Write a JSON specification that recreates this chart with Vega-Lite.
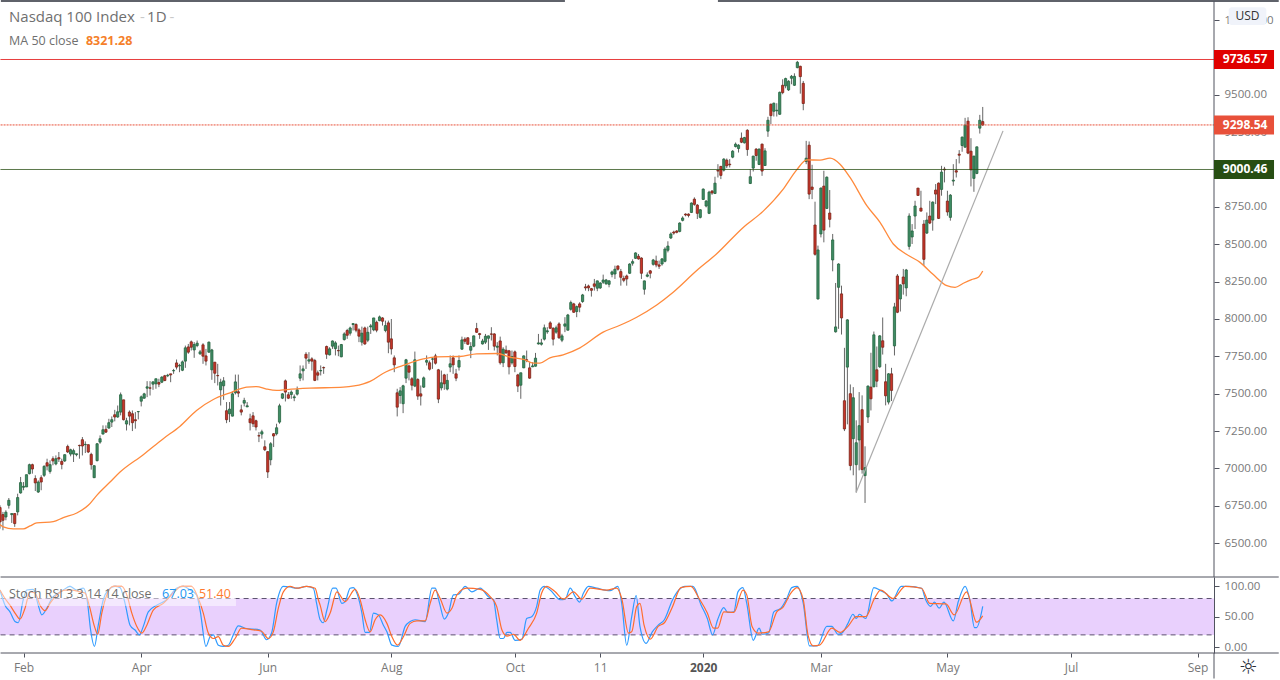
{
"$schema":"https://vega.github.io/schema/vega-lite/v6.json",
"autosize":{"type":"pad"},
"padding":0,
"background":"white",
"spacing":0,
"bounds":"flush",
"config":{"view":{"stroke":null},"font":"Open Sans","axis":{"grid":false,"title":null}},
"datasets":{
"candles":[
{"bar":0,"open":6738,"high":6753,"low":6597,"close":6642},
{"bar":1,"open":6691,"high":6709,"low":6586,"close":6653},
{"bar":2,"open":6675,"high":6720,"low":6653,"close":6707},
{"bar":3,"open":6753,"high":6802,"low":6731,"close":6787},
{"bar":4,"open":6691,"high":6698,"low":6635,"close":6698},
{"bar":5,"open":6698,"high":6698,"low":6609,"close":6631},
{"bar":6,"open":6709,"high":6831,"low":6686,"close":6805},
{"bar":7,"open":6836,"high":6943,"low":6831,"close":6905},
{"bar":8,"open":6874,"high":6909,"low":6854,"close":6880},
{"bar":9,"open":6876,"high":6958,"low":6876,"close":6958},
{"bar":10,"open":6965,"high":7032,"low":6960,"close":7025},
{"bar":11,"open":7025,"high":7032,"low":6965,"close":6996},
{"bar":12,"open":6932,"high":6954,"low":6849,"close":6903},
{"bar":13,"open":6842,"high":6920,"low":6836,"close":6909},
{"bar":14,"open":6938,"high":6954,"low":6854,"close":6909},
{"bar":15,"open":6954,"high":7021,"low":6943,"close":7014},
{"bar":16,"open":7038,"high":7065,"low":6987,"close":7016},
{"bar":17,"open":6980,"high":7054,"low":6965,"close":7025},
{"bar":18,"open":7065,"high":7081,"low":7021,"close":7050},
{"bar":19,"open":7030,"high":7087,"low":7021,"close":7065},
{"bar":20,"open":7072,"high":7110,"low":7043,"close":7063},
{"bar":21,"open":7047,"high":7065,"low":6994,"close":7027},
{"bar":22,"open":7050,"high":7094,"low":7043,"close":7092},
{"bar":23,"open":7147,"high":7159,"low":7103,"close":7110},
{"bar":24,"open":7096,"high":7132,"low":7081,"close":7125},
{"bar":25,"open":7096,"high":7132,"low":7043,"close":7119},
{"bar":26,"open":7092,"high":7098,"low":7081,"close":7098},
{"bar":27,"open":7154,"high":7159,"low":7065,"close":7152},
{"bar":28,"open":7192,"high":7210,"low":7087,"close":7150},
{"bar":29,"open":7159,"high":7181,"low":7103,"close":7161},
{"bar":30,"open":7159,"high":7159,"low":7103,"close":7110},
{"bar":31,"open":7094,"high":7105,"low":6992,"close":7025},
{"bar":32,"open":6938,"high":7021,"low":6936,"close":7018},
{"bar":33,"open":7052,"high":7170,"low":7047,"close":7165},
{"bar":34,"open":7176,"high":7221,"low":7165,"close":7199},
{"bar":35,"open":7230,"high":7288,"low":7228,"close":7259},
{"bar":36,"open":7261,"high":7288,"low":7237,"close":7243},
{"bar":37,"open":7270,"high":7332,"low":7266,"close":7306},
{"bar":38,"open":7310,"high":7348,"low":7277,"close":7326},
{"bar":39,"open":7359,"high":7392,"low":7315,"close":7344},
{"bar":40,"open":7344,"high":7421,"low":7339,"close":7379},
{"bar":41,"open":7377,"high":7508,"low":7355,"close":7493},
{"bar":42,"open":7459,"high":7459,"low":7321,"close":7326},
{"bar":43,"open":7297,"high":7339,"low":7254,"close":7319},
{"bar":44,"open":7377,"high":7388,"low":7288,"close":7350},
{"bar":45,"open":7366,"high":7388,"low":7250,"close":7306},
{"bar":46,"open":7326,"high":7377,"low":7266,"close":7319},
{"bar":47,"open":7379,"high":7381,"low":7328,"close":7381},
{"bar":48,"open":7450,"high":7488,"low":7415,"close":7479},
{"bar":49,"open":7470,"high":7506,"low":7466,"close":7499},
{"bar":50,"open":7537,"high":7584,"low":7477,"close":7546},
{"bar":51,"open":7539,"high":7584,"low":7488,"close":7537},
{"bar":52,"open":7564,"high":7584,"low":7526,"close":7579},
{"bar":53,"open":7566,"high":7600,"low":7533,"close":7600},
{"bar":54,"open":7575,"high":7600,"low":7544,"close":7564},
{"bar":55,"open":7577,"high":7617,"low":7571,"close":7611},
{"bar":56,"open":7620,"high":7626,"low":7584,"close":7588},
{"bar":57,"open":7620,"high":7633,"low":7611,"close":7624},
{"bar":58,"open":7633,"high":7633,"low":7577,"close":7626},
{"bar":59,"open":7653,"high":7666,"low":7633,"close":7655},
{"bar":60,"open":7706,"high":7729,"low":7662,"close":7678},
{"bar":61,"open":7686,"high":7700,"low":7644,"close":7689},
{"bar":62,"open":7657,"high":7722,"low":7651,"close":7713},
{"bar":63,"open":7718,"high":7822,"low":7673,"close":7807},
{"bar":64,"open":7813,"high":7833,"low":7767,"close":7778},
{"bar":65,"open":7847,"high":7856,"low":7789,"close":7811},
{"bar":66,"open":7793,"high":7845,"low":7740,"close":7829},
{"bar":67,"open":7822,"high":7856,"low":7811,"close":7838},
{"bar":68,"open":7767,"high":7793,"low":7760,"close":7780},
{"bar":69,"open":7827,"high":7838,"low":7700,"close":7751},
{"bar":70,"open":7753,"high":7800,"low":7689,"close":7718},
{"bar":71,"open":7778,"high":7849,"low":7773,"close":7845},
{"bar":72,"open":7660,"high":7800,"low":7593,"close":7793},
{"bar":73,"open":7711,"high":7711,"low":7571,"close":7637},
{"bar":74,"open":7622,"high":7700,"low":7555,"close":7620},
{"bar":75,"open":7526,"high":7600,"low":7421,"close":7577},
{"bar":76,"open":7553,"high":7611,"low":7459,"close":7586},
{"bar":77,"open":7386,"high":7444,"low":7303,"close":7326},
{"bar":78,"open":7366,"high":7444,"low":7310,"close":7397},
{"bar":79,"open":7350,"high":7515,"low":7348,"close":7499},
{"bar":80,"open":7506,"high":7628,"low":7495,"close":7579},
{"bar":81,"open":7513,"high":7628,"low":7477,"close":7504},
{"bar":82,"open":7392,"high":7426,"low":7355,"close":7377},
{"bar":83,"open":7437,"high":7473,"low":7415,"close":7455},
{"bar":84,"open":7412,"high":7444,"low":7410,"close":7419},
{"bar":85,"open":7332,"high":7366,"low":7254,"close":7306},
{"bar":86,"open":7352,"high":7377,"low":7277,"close":7299},
{"bar":87,"open":7319,"high":7326,"low":7254,"close":7277},
{"bar":88,"open":7219,"high":7243,"low":7176,"close":7217},
{"bar":89,"open":7230,"high":7259,"low":7199,"close":7245},
{"bar":90,"open":7145,"high":7188,"low":7116,"close":7125},
{"bar":91,"open":7112,"high":7116,"low":6936,"close":6976},
{"bar":92,"open":7058,"high":7176,"low":7021,"close":7165},
{"bar":93,"open":7232,"high":7237,"low":7143,"close":7217},
{"bar":94,"open":7232,"high":7299,"low":7221,"close":7272},
{"bar":95,"open":7310,"high":7433,"low":7299,"close":7419},
{"bar":96,"open":7470,"high":7504,"low":7464,"close":7499},
{"bar":97,"open":7586,"high":7595,"low":7448,"close":7511},
{"bar":98,"open":7493,"high":7511,"low":7464,"close":7470},
{"bar":99,"open":7495,"high":7522,"low":7466,"close":7511},
{"bar":100,"open":7473,"high":7495,"low":7450,"close":7479},
{"bar":101,"open":7497,"high":7548,"low":7488,"close":7526},
{"bar":102,"open":7604,"high":7689,"low":7584,"close":7633},
{"bar":103,"open":7653,"high":7689,"low":7589,"close":7666},
{"bar":104,"open":7764,"high":7778,"low":7666,"close":7738},
{"bar":105,"open":7718,"high":7778,"low":7700,"close":7727},
{"bar":106,"open":7733,"high":7744,"low":7655,"close":7718},
{"bar":107,"open":7722,"high":7733,"low":7584,"close":7589},
{"bar":108,"open":7640,"high":7655,"low":7589,"close":7624},
{"bar":109,"open":7653,"high":7689,"low":7622,"close":7655},
{"bar":110,"open":7675,"high":7682,"low":7633,"close":7673},
{"bar":111,"open":7816,"high":7822,"low":7733,"close":7764},
{"bar":112,"open":7760,"high":7811,"low":7756,"close":7800},
{"bar":113,"open":7818,"high":7856,"low":7800,"close":7853},
{"bar":114,"open":7802,"high":7851,"low":7756,"close":7840},
{"bar":115,"open":7789,"high":7822,"low":7751,"close":7787},
{"bar":116,"open":7747,"high":7833,"low":7744,"close":7829},
{"bar":117,"open":7862,"high":7911,"low":7856,"close":7900},
{"bar":118,"open":7923,"high":7934,"low":7867,"close":7891},
{"bar":119,"open":7905,"high":7949,"low":7889,"close":7940},
{"bar":120,"open":7963,"high":7972,"low":7923,"close":7969},
{"bar":121,"open":7963,"high":7972,"low":7911,"close":7925},
{"bar":122,"open":7927,"high":7938,"low":7845,"close":7885},
{"bar":123,"open":7845,"high":7949,"low":7822,"close":7905},
{"bar":124,"open":7940,"high":7949,"low":7827,"close":7833},
{"bar":125,"open":7858,"high":7949,"low":7845,"close":7911},
{"bar":126,"open":7947,"high":7967,"low":7900,"close":7954},
{"bar":127,"open":7927,"high":8007,"low":7918,"close":8007},
{"bar":128,"open":7978,"high":7989,"low":7911,"close":7925},
{"bar":129,"open":7989,"high":8023,"low":7985,"close":8014},
{"bar":130,"open":8007,"high":8012,"low":7956,"close":7985},
{"bar":131,"open":7923,"high":7989,"low":7911,"close":7956},
{"bar":132,"open":7974,"high":7989,"low":7771,"close":7845},
{"bar":133,"open":7867,"high":8000,"low":7762,"close":7800},
{"bar":134,"open":7740,"high":7756,"low":7644,"close":7693},
{"bar":135,"open":7506,"high":7533,"low":7348,"close":7410},
{"bar":136,"open":7488,"high":7544,"low":7433,"close":7519},
{"bar":137,"open":7433,"high":7560,"low":7370,"close":7553},
{"bar":138,"open":7604,"high":7733,"low":7571,"close":7727},
{"bar":139,"open":7686,"high":7695,"low":7589,"close":7644},
{"bar":140,"open":7600,"high":7611,"low":7522,"close":7557},
{"bar":141,"open":7551,"high":7782,"low":7544,"close":7727},
{"bar":142,"open":7595,"high":7604,"low":7459,"close":7484},
{"bar":143,"open":7499,"high":7555,"low":7421,"close":7484},
{"bar":144,"open":7544,"high":7615,"low":7539,"close":7606},
{"bar":145,"open":7711,"high":7756,"low":7689,"close":7722},
{"bar":146,"open":7707,"high":7722,"low":7655,"close":7664},
{"bar":147,"open":7731,"high":7744,"low":7666,"close":7733},
{"bar":148,"open":7753,"high":7767,"low":7695,"close":7704},
{"bar":149,"open":7660,"high":7666,"low":7437,"close":7464},
{"bar":150,"open":7539,"high":7655,"low":7522,"close":7573},
{"bar":151,"open":7626,"high":7633,"low":7526,"close":7566},
{"bar":152,"open":7531,"high":7633,"low":7522,"close":7589},
{"bar":153,"open":7678,"high":7756,"low":7644,"close":7700},
{"bar":154,"open":7740,"high":7756,"low":7633,"close":7693},
{"bar":155,"open":7633,"high":7666,"low":7584,"close":7604},
{"bar":156,"open":7678,"high":7756,"low":7655,"close":7722},
{"bar":157,"open":7798,"high":7882,"low":7793,"close":7860},
{"bar":158,"open":7865,"high":7878,"low":7833,"close":7851},
{"bar":159,"open":7874,"high":7878,"low":7827,"close":7831},
{"bar":160,"open":7791,"high":7845,"low":7738,"close":7816},
{"bar":161,"open":7818,"high":7889,"low":7811,"close":7887},
{"bar":162,"open":7936,"high":7974,"low":7907,"close":7911},
{"bar":163,"open":7902,"high":7907,"low":7867,"close":7896},
{"bar":164,"open":7833,"high":7867,"low":7829,"close":7853},
{"bar":165,"open":7845,"high":7900,"low":7833,"close":7885},
{"bar":166,"open":7871,"high":7889,"low":7793,"close":7887},
{"bar":167,"open":7900,"high":7945,"low":7856,"close":7898},
{"bar":168,"open":7900,"high":7905,"low":7789,"close":7818},
{"bar":169,"open":7811,"high":7845,"low":7756,"close":7818},
{"bar":170,"open":7853,"high":7882,"low":7695,"close":7707},
{"bar":171,"open":7707,"high":7811,"low":7678,"close":7798},
{"bar":172,"open":7791,"high":7822,"low":7767,"close":7773},
{"bar":173,"open":7787,"high":7793,"low":7629,"close":7680},
{"bar":174,"open":7707,"high":7789,"low":7695,"close":7749},
{"bar":175,"open":7780,"high":7789,"low":7644,"close":7682},
{"bar":176,"open":7626,"high":7633,"low":7511,"close":7551},
{"bar":177,"open":7557,"high":7640,"low":7466,"close":7640},
{"bar":178,"open":7673,"high":7756,"low":7671,"close":7753},
{"bar":179,"open":7727,"high":7789,"low":7711,"close":7724},
{"bar":180,"open":7673,"high":7711,"low":7600,"close":7604},
{"bar":181,"open":7680,"high":7711,"low":7678,"close":7686},
{"bar":182,"open":7684,"high":7773,"low":7682,"close":7738},
{"bar":183,"open":7833,"high":7900,"low":7829,"close":7840},
{"bar":184,"open":7831,"high":7867,"low":7822,"close":7840},
{"bar":185,"open":7865,"high":7963,"low":7856,"close":7941},
{"bar":186,"open":7914,"high":7945,"low":7901,"close":7921},
{"bar":187,"open":7974,"high":7985,"low":7934,"close":7938},
{"bar":188,"open":7938,"high":7945,"low":7823,"close":7865},
{"bar":189,"open":7912,"high":7956,"low":7901,"close":7941},
{"bar":190,"open":7967,"high":7978,"low":7867,"close":7874},
{"bar":191,"open":7858,"high":7901,"low":7845,"close":7887},
{"bar":192,"open":7952,"high":8012,"low":7912,"close":7967},
{"bar":193,"open":7925,"high":8034,"low":7923,"close":8027},
{"bar":194,"open":8065,"high":8123,"low":8056,"close":8110},
{"bar":195,"open":8101,"high":8108,"low":8041,"close":8045},
{"bar":196,"open":8050,"high":8090,"low":8012,"close":8083},
{"bar":197,"open":8101,"high":8112,"low":8045,"close":8079},
{"bar":198,"open":8117,"high":8168,"low":8108,"close":8161},
{"bar":199,"open":8215,"high":8235,"low":8190,"close":8208},
{"bar":200,"open":8221,"high":8230,"low":8186,"close":8208},
{"bar":201,"open":8203,"high":8208,"low":8150,"close":8192},
{"bar":202,"open":8235,"high":8268,"low":8190,"close":8219},
{"bar":203,"open":8206,"high":8257,"low":8186,"close":8255},
{"bar":204,"open":8208,"high":8246,"low":8201,"close":8241},
{"bar":205,"open":8246,"high":8297,"low":8235,"close":8261},
{"bar":206,"open":8235,"high":8268,"low":8230,"close":8261},
{"bar":207,"open":8232,"high":8261,"low":8212,"close":8255},
{"bar":208,"open":8299,"high":8324,"low":8279,"close":8315},
{"bar":209,"open":8301,"high":8357,"low":8268,"close":8333},
{"bar":210,"open":8355,"high":8357,"low":8324,"close":8333},
{"bar":211,"open":8317,"high":8335,"low":8223,"close":8279},
{"bar":212,"open":8272,"high":8290,"low":8246,"close":8259},
{"bar":213,"open":8288,"high":8297,"low":8223,"close":8268},
{"bar":214,"open":8306,"high":8373,"low":8301,"close":8368},
{"bar":215,"open":8373,"high":8399,"low":8357,"close":8384},
{"bar":216,"open":8406,"high":8446,"low":8402,"close":8442},
{"bar":217,"open":8420,"high":8435,"low":8397,"close":8402},
{"bar":218,"open":8408,"high":8413,"low":8268,"close":8306},
{"bar":219,"open":8199,"high":8257,"low":8163,"close":8255},
{"bar":220,"open":8286,"high":8312,"low":8279,"close":8295},
{"bar":221,"open":8322,"high":8328,"low":8272,"close":8306},
{"bar":222,"open":8366,"high":8402,"low":8357,"close":8395},
{"bar":223,"open":8388,"high":8424,"low":8346,"close":8362},
{"bar":224,"open":8362,"high":8391,"low":8335,"close":8353},
{"bar":225,"open":8368,"high":8408,"low":8357,"close":8402},
{"bar":226,"open":8386,"high":8480,"low":8379,"close":8468},
{"bar":227,"open":8460,"high":8520,"low":8446,"close":8488},
{"bar":228,"open":8542,"high":8580,"low":8535,"close":8569},
{"bar":229,"open":8582,"high":8591,"low":8564,"close":8575},
{"bar":230,"open":8589,"high":8595,"low":8573,"close":8580},
{"bar":231,"open":8586,"high":8647,"low":8580,"close":8642},
{"bar":232,"open":8660,"high":8687,"low":8653,"close":8676},
{"bar":233,"open":8702,"high":8707,"low":8687,"close":8696},
{"bar":234,"open":8702,"high":8707,"low":8680,"close":8693},
{"bar":235,"open":8713,"high":8780,"low":8709,"close":8776},
{"bar":236,"open":8802,"high":8814,"low":8758,"close":8767},
{"bar":237,"open":8762,"high":8769,"low":8669,"close":8707},
{"bar":238,"open":8680,"high":8736,"low":8673,"close":8731},
{"bar":239,"open":8800,"high":8874,"low":8796,"close":8869},
{"bar":240,"open":8756,"high":8796,"low":8747,"close":8789},
{"bar":241,"open":8707,"high":8858,"low":8702,"close":8849},
{"bar":242,"open":8856,"high":8863,"low":8831,"close":8843},
{"bar":243,"open":8840,"high":8952,"low":8836,"close":8909},
{"bar":244,"open":8994,"high":9036,"low":8947,"close":8990},
{"bar":245,"open":9021,"high":9025,"low":8936,"close":8961},
{"bar":246,"open":8996,"high":9076,"low":8987,"close":9070},
{"bar":247,"open":9063,"high":9074,"low":9010,"close":9025},
{"bar":248,"open":9036,"high":9070,"low":9014,"close":9032},
{"bar":249,"open":9083,"high":9130,"low":9076,"close":9123},
{"bar":250,"open":9154,"high":9181,"low":9148,"close":9170},
{"bar":251,"open":9141,"high":9170,"low":9114,"close":9163},
{"bar":252,"open":9210,"high":9248,"low":9177,"close":9183},
{"bar":253,"open":9179,"high":9219,"low":9174,"close":9214},
{"bar":254,"open":9263,"high":9270,"low":9092,"close":9134},
{"bar":255,"open":8907,"high":9003,"low":8903,"close":8952},
{"bar":256,"open":9010,"high":9092,"low":8987,"close":9090},
{"bar":257,"open":9137,"high":9143,"low":9059,"close":9094},
{"bar":258,"open":9034,"high":9141,"low":9030,"close":9137},
{"bar":259,"open":9170,"high":9174,"low":8958,"close":8990},
{"bar":260,"open":9027,"high":9143,"low":9025,"close":9125},
{"bar":261,"open":9257,"high":9353,"low":9219,"close":9330},
{"bar":262,"open":9437,"high":9442,"low":9304,"close":9361},
{"bar":263,"open":9390,"high":9448,"low":9355,"close":9444},
{"bar":264,"open":9393,"high":9444,"low":9355,"close":9397},
{"bar":265,"open":9370,"high":9522,"low":9366,"close":9517},
{"bar":266,"open":9564,"high":9604,"low":9504,"close":9515},
{"bar":267,"open":9560,"high":9615,"low":9544,"close":9609},
{"bar":268,"open":9533,"high":9598,"low":9526,"close":9591},
{"bar":269,"open":9611,"high":9633,"low":9571,"close":9624},
{"bar":270,"open":9564,"high":9644,"low":9560,"close":9624},
{"bar":271,"open":9682,"high":9727,"low":9678,"close":9718},
{"bar":272,"open":9691,"high":9695,"low":9508,"close":9622},
{"bar":273,"open":9577,"high":9593,"low":9397,"close":9442},
{"bar":274,"open":9054,"high":9192,"low":9036,"close":9076},
{"bar":275,"open":9163,"high":9188,"low":8802,"close":8836},
{"bar":276,"open":8883,"high":9032,"low":8802,"close":8867},
{"bar":277,"open":8629,"high":8785,"low":8424,"close":8433},
{"bar":278,"open":8134,"high":8491,"low":8130,"close":8462},
{"bar":279,"open":8569,"high":8880,"low":8546,"close":8876},
{"bar":280,"open":8889,"high":8992,"low":8513,"close":8595},
{"bar":281,"open":8740,"high":8954,"low":8736,"close":8949},
{"bar":282,"open":8709,"high":8863,"low":8613,"close":8667},
{"bar":283,"open":8395,"high":8569,"low":8319,"close":8529},
{"bar":284,"open":7914,"high":8241,"low":7909,"close":7947},
{"bar":285,"open":8212,"high":8373,"low":7934,"close":8368},
{"bar":286,"open":8168,"high":8223,"low":7896,"close":8007},
{"bar":287,"open":7453,"high":7807,"low":7250,"close":7264},
{"bar":288,"open":7678,"high":7999,"low":7295,"close":7994},
{"bar":289,"open":7500,"high":7562,"low":6987,"close":7019},
{"bar":290,"open":7199,"high":7544,"low":6954,"close":7473},
{"bar":291,"open":7025,"high":7322,"low":6838,"close":7172},
{"bar":292,"open":7190,"high":7511,"low":6987,"close":7286},
{"bar":293,"open":7393,"high":7489,"low":6965,"close":6992},
{"bar":294,"open":6952,"high":7148,"low":6769,"close":7005},
{"bar":295,"open":7344,"high":7555,"low":7304,"close":7551},
{"bar":296,"open":7544,"high":7774,"low":7388,"close":7466},
{"bar":297,"open":7546,"high":7916,"low":7544,"close":7894},
{"bar":298,"open":7660,"high":7816,"low":7544,"close":7584},
{"bar":299,"open":7680,"high":7892,"low":7673,"close":7887},
{"bar":300,"open":7854,"high":8010,"low":7762,"close":7811},
{"bar":301,"open":7580,"high":7700,"low":7422,"close":7486},
{"bar":302,"open":7444,"high":7638,"low":7428,"close":7633},
{"bar":303,"open":7633,"high":7673,"low":7451,"close":7522},
{"bar":304,"open":7820,"high":8108,"low":7756,"close":8081},
{"bar":305,"open":8288,"high":8301,"low":8039,"close":8045},
{"bar":306,"open":8134,"high":8232,"low":8050,"close":8228},
{"bar":307,"open":8281,"high":8335,"low":8163,"close":8235},
{"bar":308,"open":8208,"high":8335,"low":8152,"close":8328},
{"bar":309,"open":8486,"high":8707,"low":8464,"close":8689},
{"bar":310,"open":8549,"high":8635,"low":8502,"close":8589},
{"bar":311,"open":8689,"high":8791,"low":8602,"close":8756},
{"bar":312,"open":8876,"high":8876,"low":8825,"close":8827},
{"bar":313,"open":8742,"high":8858,"low":8720,"close":8722},
{"bar":314,"open":8635,"high":8662,"low":8357,"close":8399},
{"bar":315,"open":8575,"high":8713,"low":8569,"close":8662},
{"bar":316,"open":8689,"high":8791,"low":8635,"close":8642},
{"bar":317,"open":8662,"high":8787,"low":8591,"close":8782},
{"bar":318,"open":8863,"high":8903,"low":8769,"close":8836},
{"bar":319,"open":8909,"high":8914,"low":8669,"close":8673},
{"bar":320,"open":8867,"high":9025,"low":8825,"close":8983},
{"bar":321,"open":9003,"high":9018,"low":8914,"close":8998},
{"bar":322,"open":8789,"high":8858,"low":8691,"close":8716},
{"bar":323,"open":8680,"high":8836,"low":8658,"close":8829},
{"bar":324,"open":8923,"high":9036,"low":8892,"close":8929},
{"bar":325,"open":8992,"high":9070,"low":8947,"close":8983},
{"bar":326,"open":9103,"high":9130,"low":9041,"close":9096},
{"bar":327,"open":9161,"high":9221,"low":9119,"close":9217},
{"bar":328,"open":9150,"high":9346,"low":9145,"close":9297},
{"bar":329,"open":9324,"high":9350,"low":9103,"close":9110},
{"bar":330,"open":9123,"high":9210,"low":8887,"close":8998},
{"bar":331,"open":8941,"high":9092,"low":8851,"close":9090},
{"bar":332,"open":8974,"high":9154,"low":8969,"close":9152},
{"bar":333,"open":9277,"high":9366,"low":9241,"close":9330},
{"bar":334,"open":9321,"high":9419,"low":9292,"close":9298.54}
],
"ma":[
{"bar":0,"price":6624},{"bar":1.1,"price":6609},{"bar":4.5,"price":6595},{"bar":7.9,"price":6595},{"bar":10.2,"price":6615},{"bar":12.5,"price":6635},{"bar":18.1,"price":6644},{"bar":21.5,"price":6671},{"bar":26.1,"price":6702},{"bar":30,"price":6753},{"bar":32.9,"price":6820},{"bar":37.4,"price":6909},{"bar":40.8,"price":6976},{"bar":48.7,"price":7092},{"bar":55.5,"price":7199},{"bar":61.2,"price":7283},{"bar":66.8,"price":7388},{"bar":72.5,"price":7461},{"bar":78.2,"price":7506},{"bar":83.8,"price":7544},{"bar":87.2,"price":7548},{"bar":90.6,"price":7531},{"bar":94,"price":7522},{"bar":97.5,"price":7528},{"bar":105.3,"price":7537},{"bar":116.7,"price":7544},{"bar":123.5,"price":7566},{"bar":125.8,"price":7582},{"bar":130.3,"price":7637},{"bar":137,"price":7689},{"bar":143.9,"price":7733},{"bar":148.4,"price":7747},{"bar":156.3,"price":7749},{"bar":162,"price":7767},{"bar":169,"price":7769},{"bar":173.5,"price":7744},{"bar":178,"price":7729},{"bar":181.3,"price":7704},{"bar":183.5,"price":7705},{"bar":186.9,"price":7740},{"bar":191.4,"price":7760},{"bar":197.1,"price":7807},{"bar":205,"price":7912},{"bar":210.7,"price":7958},{"bar":216.4,"price":8012},{"bar":223.2,"price":8094},{"bar":228.8,"price":8179},{"bar":236.8,"price":8324},{"bar":243.5,"price":8435},{"bar":252.6,"price":8613},{"bar":259.4,"price":8722},{"bar":266.2,"price":8869},{"bar":270.7,"price":8996},{"bar":274.2,"price":9065},{"bar":278.7,"price":9063},{"bar":282.1,"price":9076},{"bar":285.5,"price":9036},{"bar":288.9,"price":8947},{"bar":294.6,"price":8758},{"bar":299.1,"price":8647},{"bar":303.6,"price":8502},{"bar":308.2,"price":8431},{"bar":312.7,"price":8379},{"bar":317.2,"price":8297},{"bar":321.8,"price":8223},{"bar":324.6,"price":8212},{"bar":327.4,"price":8239},{"bar":330.2,"price":8263},{"bar":332.5,"price":8279},{"bar":334,"price":8321.28}
],
"levels":[
{"price":9736.57,"label":"9736.57"},
{"price":9298.54,"label":"9298.54"},
{"price":9000.46,"label":"9000.46"}
],
"stoch":[
{"s":"K","bar":0,"v":94},{"s":"K","bar":1.7,"v":69},{"s":"K","bar":3.4,"v":58},{"s":"K","bar":5.1,"v":42},{"s":"K","bar":6.2,"v":40},{"s":"K","bar":7.9,"v":78},{"s":"K","bar":9.1,"v":94},{"s":"K","bar":11.3,"v":95},{"s":"K","bar":13,"v":69},{"s":"K","bar":14.2,"v":53},{"s":"K","bar":15.9,"v":64},{"s":"K","bar":17.6,"v":80},{"s":"K","bar":19.8,"v":89},{"s":"K","bar":21.5,"v":94},{"s":"K","bar":23.8,"v":100},{"s":"K","bar":26.1,"v":94},{"s":"K","bar":28.3,"v":97},{"s":"K","bar":29.7,"v":75},{"s":"K","bar":30.8,"v":28},{"s":"K","bar":32.1,"v":1},{"s":"K","bar":33.4,"v":36},{"s":"K","bar":35.1,"v":78},{"s":"K","bar":36.8,"v":94},{"s":"K","bar":39.1,"v":100},{"s":"K","bar":40.8,"v":98},{"s":"K","bar":42.5,"v":72},{"s":"K","bar":44.2,"v":36},{"s":"K","bar":45.9,"v":28},{"s":"K","bar":47.4,"v":20},{"s":"K","bar":48.7,"v":34},{"s":"K","bar":50.4,"v":58},{"s":"K","bar":53.3,"v":69},{"s":"K","bar":56.7,"v":78},{"s":"K","bar":60,"v":97},{"s":"K","bar":62.3,"v":100},{"s":"K","bar":64.6,"v":94},{"s":"K","bar":66.8,"v":86},{"s":"K","bar":68,"v":61},{"s":"K","bar":70,"v":1},{"s":"K","bar":71.4,"v":17},{"s":"K","bar":72.5,"v":20},{"s":"K","bar":74.2,"v":3},{"s":"K","bar":75.9,"v":1},{"s":"K","bar":77.6,"v":3},{"s":"K","bar":79.3,"v":20},{"s":"K","bar":81,"v":35},{"s":"K","bar":83.3,"v":31},{"s":"K","bar":88.4,"v":28},{"s":"K","bar":90.6,"v":12},{"s":"K","bar":92.3,"v":23},{"s":"K","bar":94,"v":72},{"s":"K","bar":96.3,"v":100},{"s":"K","bar":98.6,"v":99},{"s":"K","bar":100.8,"v":97},{"s":"K","bar":104.2,"v":100},{"s":"K","bar":106.5,"v":97},{"s":"K","bar":107.6,"v":72},{"s":"K","bar":108.8,"v":45},{"s":"K","bar":109.9,"v":40},{"s":"K","bar":111.1,"v":61},{"s":"K","bar":113.1,"v":97},{"s":"K","bar":114.2,"v":97},{"s":"K","bar":116.2,"v":72},{"s":"K","bar":117.3,"v":75},{"s":"K","bar":119,"v":97},{"s":"K","bar":120.1,"v":98},{"s":"K","bar":121.5,"v":86},{"s":"K","bar":123,"v":56},{"s":"K","bar":124.1,"v":24},{"s":"K","bar":125.6,"v":24},{"s":"K","bar":126.9,"v":56},{"s":"K","bar":128.6,"v":53},{"s":"K","bar":130.3,"v":36},{"s":"K","bar":131.5,"v":25},{"s":"K","bar":133.2,"v":3},{"s":"K","bar":135.4,"v":1},{"s":"K","bar":137.7,"v":34},{"s":"K","bar":139.4,"v":42},{"s":"K","bar":141.1,"v":45},{"s":"K","bar":144.5,"v":42},{"s":"K","bar":146.8,"v":97},{"s":"K","bar":147.9,"v":97},{"s":"K","bar":149.4,"v":72},{"s":"K","bar":151,"v":46},{"s":"K","bar":152.4,"v":56},{"s":"K","bar":154.1,"v":86},{"s":"K","bar":155.8,"v":87},{"s":"K","bar":158.1,"v":100},{"s":"K","bar":160.4,"v":91},{"s":"K","bar":163.2,"v":97},{"s":"K","bar":166,"v":83},{"s":"K","bar":167.7,"v":78},{"s":"K","bar":168.8,"v":45},{"s":"K","bar":170,"v":14},{"s":"K","bar":171.1,"v":14},{"s":"K","bar":172.3,"v":24},{"s":"K","bar":173.4,"v":24},{"s":"K","bar":175.1,"v":11},{"s":"K","bar":177.4,"v":13},{"s":"K","bar":179,"v":47},{"s":"K","bar":180.7,"v":50},{"s":"K","bar":182.4,"v":67},{"s":"K","bar":183.6,"v":94},{"s":"K","bar":185,"v":100},{"s":"K","bar":187,"v":94},{"s":"K","bar":190.4,"v":78},{"s":"K","bar":192.1,"v":79},{"s":"K","bar":193.8,"v":97},{"s":"K","bar":195.5,"v":83},{"s":"K","bar":197,"v":74},{"s":"K","bar":198.3,"v":89},{"s":"K","bar":200,"v":100},{"s":"K","bar":202.8,"v":97},{"s":"K","bar":207.4,"v":93},{"s":"K","bar":210,"v":100},{"s":"K","bar":211.3,"v":72},{"s":"K","bar":213,"v":3},{"s":"K","bar":214.7,"v":50},{"s":"K","bar":216.2,"v":85},{"s":"K","bar":217.5,"v":34},{"s":"K","bar":219.6,"v":6},{"s":"K","bar":221.7,"v":25},{"s":"K","bar":223.7,"v":36},{"s":"K","bar":225.8,"v":45},{"s":"K","bar":228.6,"v":78},{"s":"K","bar":230.7,"v":94},{"s":"K","bar":232.8,"v":100},{"s":"K","bar":235.5,"v":100},{"s":"K","bar":238.3,"v":69},{"s":"K","bar":240.4,"v":47},{"s":"K","bar":242.2,"v":20},{"s":"K","bar":243.9,"v":45},{"s":"K","bar":246,"v":65},{"s":"K","bar":247.3,"v":57},{"s":"K","bar":249.4,"v":58},{"s":"K","bar":250.8,"v":91},{"s":"K","bar":252.5,"v":98},{"s":"K","bar":253.8,"v":72},{"s":"K","bar":256,"v":11},{"s":"K","bar":258,"v":31},{"s":"K","bar":259.1,"v":21},{"s":"K","bar":261.2,"v":23},{"s":"K","bar":263,"v":58},{"s":"K","bar":265.4,"v":64},{"s":"K","bar":267.4,"v":80},{"s":"K","bar":269.1,"v":98},{"s":"K","bar":270.9,"v":100},{"s":"K","bar":273,"v":72},{"s":"K","bar":275.1,"v":2},{"s":"K","bar":277.8,"v":2},{"s":"K","bar":281,"v":34},{"s":"K","bar":282.7,"v":34},{"s":"K","bar":284.8,"v":21},{"s":"K","bar":286.4,"v":24},{"s":"K","bar":288.2,"v":39},{"s":"K","bar":289.9,"v":54},{"s":"K","bar":291,"v":47},{"s":"K","bar":292.1,"v":54},{"s":"K","bar":294.2,"v":47},{"s":"K","bar":297,"v":98},{"s":"K","bar":299.3,"v":93},{"s":"K","bar":301.4,"v":87},{"s":"K","bar":303.1,"v":76},{"s":"K","bar":306.3,"v":100},{"s":"K","bar":309,"v":100},{"s":"K","bar":313.2,"v":97},{"s":"K","bar":314.6,"v":78},{"s":"K","bar":316.3,"v":67},{"s":"K","bar":317.6,"v":74},{"s":"K","bar":319.2,"v":64},{"s":"K","bar":320.8,"v":74},{"s":"K","bar":324,"v":43},{"s":"K","bar":325.7,"v":75},{"s":"K","bar":328,"v":100},{"s":"K","bar":329.6,"v":78},{"s":"K","bar":331.2,"v":32},{"s":"K","bar":331.9,"v":32},{"s":"K","bar":334,"v":67.03},
{"s":"D","bar":0,"v":94},{"s":"D","bar":1.7,"v":80},{"s":"D","bar":3.4,"v":69},{"s":"D","bar":5.1,"v":56},{"s":"D","bar":6.8,"v":46},{"s":"D","bar":8.5,"v":64},{"s":"D","bar":10.2,"v":91},{"s":"D","bar":11.9,"v":89},{"s":"D","bar":13.6,"v":69},{"s":"D","bar":15.3,"v":60},{"s":"D","bar":17,"v":72},{"s":"D","bar":19.3,"v":86},{"s":"D","bar":22.1,"v":94},{"s":"D","bar":24.4,"v":94},{"s":"D","bar":27.2,"v":91},{"s":"D","bar":28.9,"v":89},{"s":"D","bar":30.4,"v":67},{"s":"D","bar":32.1,"v":34},{"s":"D","bar":33.2,"v":21},{"s":"D","bar":34.6,"v":56},{"s":"D","bar":36.3,"v":86},{"s":"D","bar":38.5,"v":100},{"s":"D","bar":41.4,"v":100},{"s":"D","bar":43.1,"v":86},{"s":"D","bar":44.8,"v":56},{"s":"D","bar":46.5,"v":34},{"s":"D","bar":48.2,"v":23},{"s":"D","bar":49.9,"v":36},{"s":"D","bar":52.1,"v":61},{"s":"D","bar":55.5,"v":72},{"s":"D","bar":58.9,"v":89},{"s":"D","bar":61.7,"v":100},{"s":"D","bar":65.1,"v":100},{"s":"D","bar":67.4,"v":80},{"s":"D","bar":69.1,"v":56},{"s":"D","bar":70.8,"v":23},{"s":"D","bar":72.5,"v":14},{"s":"D","bar":74.2,"v":17},{"s":"D","bar":75.9,"v":3},{"s":"D","bar":77.6,"v":1},{"s":"D","bar":79.9,"v":14},{"s":"D","bar":82.1,"v":31},{"s":"D","bar":85,"v":29},{"s":"D","bar":88.9,"v":26},{"s":"D","bar":91.2,"v":14},{"s":"D","bar":92.9,"v":25},{"s":"D","bar":94.6,"v":64},{"s":"D","bar":96.3,"v":91},{"s":"D","bar":98.6,"v":100},{"s":"D","bar":100.8,"v":97},{"s":"D","bar":104.2,"v":100},{"s":"D","bar":107.1,"v":97},{"s":"D","bar":108.2,"v":78},{"s":"D","bar":108.8,"v":69},{"s":"D","bar":110.5,"v":42},{"s":"D","bar":112.2,"v":56},{"s":"D","bar":114.5,"v":91},{"s":"D","bar":117.3,"v":75},{"s":"D","bar":120.7,"v":95},{"s":"D","bar":122.4,"v":78},{"s":"D","bar":124.1,"v":45},{"s":"D","bar":125.8,"v":25},{"s":"D","bar":127.5,"v":45},{"s":"D","bar":129.2,"v":53},{"s":"D","bar":131.5,"v":39},{"s":"D","bar":133.2,"v":17},{"s":"D","bar":135.1,"v":3},{"s":"D","bar":137.1,"v":17},{"s":"D","bar":139.4,"v":39},{"s":"D","bar":141.7,"v":43},{"s":"D","bar":144.5,"v":43},{"s":"D","bar":146.2,"v":72},{"s":"D","bar":147.9,"v":94},{"s":"D","bar":149.6,"v":80},{"s":"D","bar":151.9,"v":56},{"s":"D","bar":153.6,"v":64},{"s":"D","bar":155.3,"v":86},{"s":"D","bar":158.6,"v":97},{"s":"D","bar":163.2,"v":95},{"s":"D","bar":166.6,"v":83},{"s":"D","bar":168.8,"v":67},{"s":"D","bar":170.6,"v":28},{"s":"D","bar":172.3,"v":18},{"s":"D","bar":174.5,"v":21},{"s":"D","bar":176.8,"v":11},{"s":"D","bar":179.6,"v":31},{"s":"D","bar":182.4,"v":56},{"s":"D","bar":184.1,"v":89},{"s":"D","bar":185.8,"v":100},{"s":"D","bar":188.7,"v":91},{"s":"D","bar":191.5,"v":79},{"s":"D","bar":194.9,"v":91},{"s":"D","bar":197.7,"v":79},{"s":"D","bar":200.6,"v":97},{"s":"D","bar":206.2,"v":94},{"s":"D","bar":209.6,"v":97},{"s":"D","bar":211.3,"v":80},{"s":"D","bar":213.6,"v":23},{"s":"D","bar":214.7,"v":25},{"s":"D","bar":216.4,"v":67},{"s":"D","bar":217.5,"v":72},{"s":"D","bar":218.9,"v":36},{"s":"D","bar":221,"v":13},{"s":"D","bar":223.7,"v":34},{"s":"D","bar":225.8,"v":40},{"s":"D","bar":228.6,"v":67},{"s":"D","bar":231.4,"v":98},{"s":"D","bar":234.8,"v":100},{"s":"D","bar":237.6,"v":80},{"s":"D","bar":240.4,"v":56},{"s":"D","bar":242.5,"v":31},{"s":"D","bar":243.9,"v":31},{"s":"D","bar":246,"v":58},{"s":"D","bar":249.4,"v":57},{"s":"D","bar":252.5,"v":94},{"s":"D","bar":253.8,"v":86},{"s":"D","bar":255.6,"v":34},{"s":"D","bar":257.7,"v":23},{"s":"D","bar":261.2,"v":25},{"s":"D","bar":264,"v":58},{"s":"D","bar":266,"v":65},{"s":"D","bar":268.8,"v":89},{"s":"D","bar":270.9,"v":98},{"s":"D","bar":273,"v":78},{"s":"D","bar":274.6,"v":20},{"s":"D","bar":276.4,"v":2},{"s":"D","bar":278.5,"v":3},{"s":"D","bar":282.7,"v":31},{"s":"D","bar":285.5,"v":24},{"s":"D","bar":288.2,"v":34},{"s":"D","bar":291,"v":50},{"s":"D","bar":294.2,"v":50},{"s":"D","bar":297.2,"v":80},{"s":"D","bar":299.3,"v":94},{"s":"D","bar":303.5,"v":80},{"s":"D","bar":307.7,"v":100},{"s":"D","bar":313.2,"v":97},{"s":"D","bar":316,"v":72},{"s":"D","bar":321.5,"v":71},{"s":"D","bar":324.3,"v":53},{"s":"D","bar":328.5,"v":91},{"s":"D","bar":331.9,"v":41},{"s":"D","bar":334,"v":51.4}
]
},
"vconcat":[
{
"width":1214,
"height":577,
"encoding":{
"x":{"type":"quantitative","scale":{"domain":[0,412.6],"nice":false,"zero":false,"padding":0},"axis":null},
"y":{"type":"quantitative","scale":{"domain":[6273.4,10134.7],"nice":false,"zero":false,"padding":0},
"axis":{"orient":"right","domain":false,"values":[6500,6750,7000,7250,7500,7750,8000,8250,8500,8750,9000,9250,9500,9750,10000],"format":".2f","tickSize":5,"tickColor":"#50535e","labelColor":"#787878","labelFontSize":11.5,"labelPadding":5,"labelOverlap":false}}
},
"layer":[
{"data":{"name":"candles"},"mark":{"type":"rule","strokeWidth":1,"color":"#666666","clip":true},
"encoding":{"x":{"field":"bar"},"y":{"field":"high"},"y2":{"field":"low"}}},
{"data":{"name":"candles"},"mark":{"type":"bar","size":2.2,"strokeWidth":0.8,"clip":true},
"encoding":{"x":{"field":"bar"},"y":{"field":"open"},"y2":{"field":"close"},
"fill":{"condition":{"test":"datum.close>=datum.open","value":"#3f8d65"},"value":"#c8352a"},
"stroke":{"condition":{"test":"datum.close>=datum.open","value":"#24633f"},"value":"#7a2418"}}},
{"data":{"name":"ma"},"mark":{"type":"line","color":"#ff8a3c","strokeWidth":1.3,"interpolate":"monotone","clip":true},"encoding":{"x":{"field":"bar"},"y":{"field":"price"}}},
{"data":{"values":[{"bar":291,"price":6840},{"bar":340.9,"price":9259}]},"mark":{"type":"line","color":"#ababab","strokeWidth":1.2},"encoding":{"x":{"field":"bar"},"y":{"field":"price"}}},
{"data":{"name":"levels"},"mark":{"type":"rule","strokeWidth":1},
"encoding":{"x":{"datum":0.2},"x2":{"datum":412.6},"y":{"field":"price"},
"color":{"field":"label","type":"nominal","scale":{"domain":["9736.57","9298.54","9000.46"],"range":["#e00000","#e8503a","#274e13"]},"legend":null},
"strokeDash":{"field":"label","type":"nominal","scale":{"domain":["9736.57","9298.54","9000.46"],"range":[[1,0],[2,1],[1,0]]},"legend":null}}},
{"data":{"values":[{"from":0.3,"to":192},{"from":244,"to":434.6}]},"mark":{"type":"rule","color":"#2a2e39","strokeWidth":1.5},
"encoding":{"x":{"field":"from"},"x2":{"field":"to"},"y":{"datum":10128.5}}},
{"data":{"values":[{"hi":10128,"lo":6273.4}]},"mark":{"type":"rule","color":"#50535e","strokeWidth":1},
"encoding":{"x":{"datum":412.6},"y":{"field":"hi"},"y2":{"field":"lo"}}},
{"data":{"name":"levels"},"mark":{"type":"bar","size":19,"orient":"horizontal"},
"encoding":{"x":{"datum":412.6},"x2":{"datum":433},"y":{"field":"price"},
"color":{"field":"label","type":"nominal","scale":{"domain":["9736.57","9298.54","9000.46"],"range":["#ff0000","#d65a4a","#274e13"]},"legend":null}}},
{"data":{"name":"levels"},"mark":{"type":"text","align":"left","baseline":"middle","color":"white","fontWeight":"bold","fontSize":12},
"encoding":{"x":{"datum":415.6},"y":{"field":"price"},"text":{"field":"label"}}},
{"data":{"values":[{"from":417.6,"to":430.4,"lo":9967,"hi":10087}]},"mark":{"type":"rect","color":"#f0f3fa","cornerRadius":3},
"encoding":{"x":{"field":"from"},"x2":{"field":"to"},"y":{"field":"lo"},"y2":{"field":"hi"}}},
{"data":{"values":[{"bar":424,"price":10027,"label":"USD"}]},"mark":{"type":"text","align":"center","baseline":"middle","color":"#333333","fontSize":12},"encoding":{"x":{"field":"bar"},"y":{"field":"price"},"text":{"field":"label"}}},
{"data":{"values":[{"bar":3.06,"price":10019,"label":"Nasdaq 100 Index"},{"bar":50,"price":10019,"label":"1D"}]},"mark":{"type":"text","align":"left","baseline":"middle","color":"#6f6f6f","fontSize":15},"encoding":{"x":{"field":"bar"},"y":{"field":"price"},"text":{"field":"label"}}},
{"data":{"values":[{"bar":47.6,"price":10019,"label":"-"},{"bar":57.6,"price":10019,"label":"-"}]},"mark":{"type":"text","align":"left","baseline":"middle","color":"#c9c9c9","fontSize":15},"encoding":{"x":{"field":"bar"},"y":{"field":"price"},"text":{"field":"label"}}},
{"data":{"values":[{"bar":3.06,"price":9860,"label":"MA 50 close"}]},"mark":{"type":"text","align":"left","baseline":"middle","color":"#6f6f6f","fontSize":12.5},"encoding":{"x":{"field":"bar"},"y":{"field":"price"},"text":{"field":"label"}}},
{"data":{"values":[{"bar":29.2,"price":9860,"label":"8321.28"}]},"mark":{"type":"text","align":"left","baseline":"middle","color":"#f57f2a","fontSize":12.5,"fontWeight":"bold"},"encoding":{"x":{"field":"bar"},"y":{"field":"price"},"text":{"field":"label"}}}
]
},
{
"width":1214,
"height":76,
"encoding":{
"x":{"type":"quantitative","scale":{"domain":[0,412.6],"nice":false,"zero":false,"padding":0},
"axis":{"orient":"bottom","values":[8,48,91,133,175,204,239,279,322,364,407],"labelExpr":"{'8':'Feb','48':'Apr','91':'Jun','133':'Aug','175':'Oct','204':'11','239':'2020','279':'Mar','322':'May','364':'Jul','407':'Sep'}[datum.value]","domain":false,"tickSize":4,"tickColor":"#50535e","labelColor":{"condition":{"test":"datum.value==239","value":"#555555"},"value":"#787878"},"labelFontWeight":{"condition":{"test":"datum.value==239","value":"bold"},"value":"normal"},"labelFontSize":12,"labelPadding":5,"labelOverlap":false,"labelFlush":false}},
"y":{"type":"quantitative","scale":{"domain":[-9.9,115.5],"nice":false,"zero":false,"padding":0},
"axis":{"orient":"right","values":[0,50,100],"format":".2f","tickSize":5,"tickColor":"#50535e","domainColor":"#50535e","labelColor":"#787878","labelFontSize":11.5,"labelPadding":5,"labelOverlap":false}}
},
"layer":[
{"data":{"values":[{"upper":80,"lower":20}]},"mark":{"type":"rect","color":"#e9d0fd"},
"encoding":{"x":{"datum":0},"x2":{"datum":412.6},"y":{"field":"upper"},"y2":{"field":"lower"}}},
{"data":{"values":[{"v":80},{"v":20}]},"mark":{"type":"rule","color":"#5d5470","strokeWidth":1,"strokeDash":[5,4]},
"encoding":{"x":{"datum":0.2},"x2":{"datum":412.6},"y":{"field":"v"}}},
{"data":{"name":"stoch"},"transform":[{"filter":"datum.s=='K'"}],"mark":{"type":"line","color":"#2f9bff","strokeWidth":1.2,"interpolate":"monotone","clip":true},"encoding":{"x":{"field":"bar"},"y":{"field":"v"}}},
{"data":{"name":"stoch"},"transform":[{"filter":"datum.s=='D'"}],"mark":{"type":"line","color":"#ff6d2d","strokeWidth":1.2,"interpolate":"monotone","clip":true},"encoding":{"x":{"field":"bar"},"y":{"field":"v"}}},
{"data":{"values":[{"from":0,"to":80.2,"hi":100.7,"lo":67.7}]},"mark":{"type":"rect","color":"white","opacity":0.5},
"encoding":{"x":{"field":"from"},"x2":{"field":"to"},"y":{"field":"hi"},"y2":{"field":"lo"}}},
{"data":{"values":[{"bar":3.06,"v":87.5,"label":"Stoch RSI 3 3 14 14 close"}]},"mark":{"type":"text","align":"left","baseline":"middle","color":"#6f6f6f","fontSize":12.5},"encoding":{"x":{"field":"bar"},"y":{"field":"v"},"text":{"field":"label"}}},
{"data":{"values":[{"bar":55.1,"v":87.5,"label":"67.03"}]},"mark":{"type":"text","align":"left","baseline":"middle","color":"#2196f3","fontSize":12.5},"encoding":{"x":{"field":"bar"},"y":{"field":"v"},"text":{"field":"label"}}},
{"data":{"values":[{"bar":67.6,"v":87.5,"label":"51.40"}]},"mark":{"type":"text","align":"left","baseline":"middle","color":"#ff7a2d","fontSize":12.5},"encoding":{"x":{"field":"bar"},"y":{"field":"v"},"text":{"field":"label"}}},
{"data":{"values":[{"v":115.5},{"v":-9.9}]},"mark":{"type":"rule","color":"#50535e","strokeWidth":1},
"encoding":{"x":{"datum":0.2},"x2":{"datum":434.6},"y":{"field":"v"}}},
{"data":{"values":[{"v":-9.9,"end":-52}]},"mark":{"type":"rule","color":"#50535e","strokeWidth":1},
"encoding":{"x":{"datum":412.6},"y":{"field":"v"},"y2":{"field":"end"}}},
{"data":{"values":[{"bar":424.2,"v":-34.6,"label":"☼"}]},"mark":{"type":"text","align":"center","baseline":"middle","color":"#2a2e39","fontSize":21,"font":"DejaVu Sans"},"encoding":{"x":{"field":"bar"},"y":{"field":"v"},"text":{"field":"label"}}}
]
}
]
}
